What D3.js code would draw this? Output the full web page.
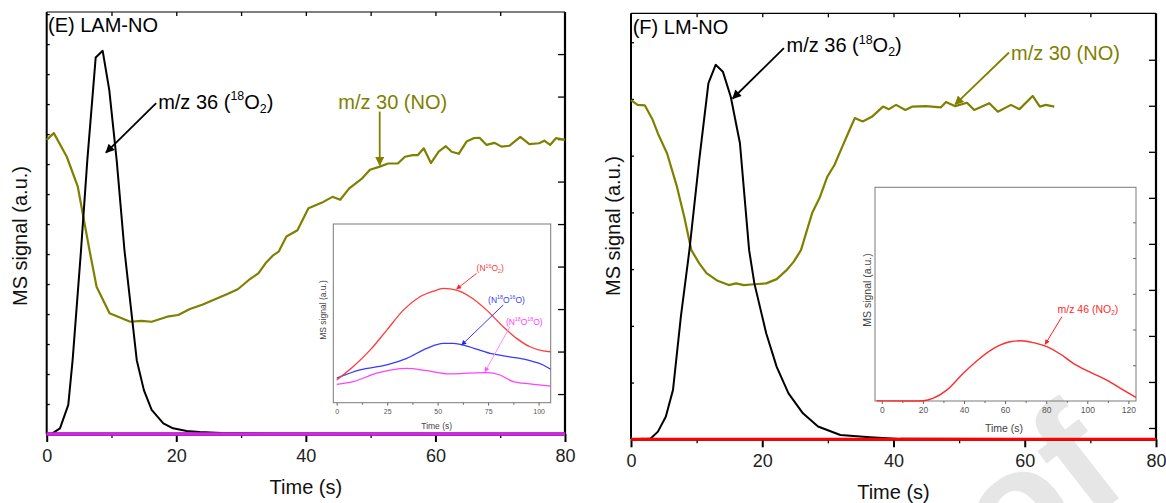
<!DOCTYPE html>
<html>
<head>
<meta charset="utf-8">
<script src="https://cdn.jsdelivr.net/npm/d3@7"></script>
<style>
  body { margin: 0; background: #fff; }
  svg { font-family: "Liberation Sans", Arial, sans-serif; }
</style>
</head>
<body>
<div id="chart"></div>
<script>
// ---------- data ----------
// main panels: time in s, signal in % of the plot height
var mainTicks = [0, 20, 40, 60, 80];
var mainMinor = [10, 30, 50, 70];

// (E) LAM-NO
var eO2Time = [0, 0.8, 2.05, 3.33, 4.0, 5.3, 6.27, 7.56, 8.64, 9.66, 10.8, 12.0, 13.9, 15.0, 16.2, 18.0, 19.5, 21.6, 23.6, 27, 35, 80];
var eO2Signal = [0, 0.1, 1.35, 6.9, 17.5, 43.6, 64.9, 89.2, 90.8, 81.5, 64.9, 43.6, 17.5, 10.4, 5.7, 2.5, 1.35, 0.7, 0.47, 0.24, 0.07, 0];
var eNOTime = [0, 1.1, 3.1, 4.8, 6.6, 7.7, 9.7, 12.9, 14.6, 16.2, 18.6, 20.3, 22.1, 24.1, 25.8, 27.8, 29.5, 31.2, 32.7, 33.8, 35.0, 35.8, 37.0, 38.7, 40.4, 42.7, 44.1, 45.3, 46.7, 48.7, 49.9, 51.3, 52.7, 54.2, 55.3, 56.5, 57.3, 58.2, 59.3, 60.5, 61.6, 62.5, 63.6, 64.8, 65.9, 66.8, 67.9, 69.1, 70.2, 71.4, 73.1, 74.5, 76.0, 76.8, 77.7, 78.6, 80];
var eNOSignal = [69.7, 71.3, 65.7, 58.6, 43.6, 34.9, 28.6, 26.6, 26.8, 26.6, 27.8, 28.2, 29.6, 30.7, 31.8, 33.1, 34.3, 36.5, 38.1, 40.5, 42.4, 43.2, 46.8, 48.3, 53.5, 55.0, 56.2, 55.5, 58.2, 60.6, 62.6, 63.3, 64.1, 64.1, 65.7, 66.1, 66.1, 67.7, 64.2, 66.9, 68.2, 66.9, 66.4, 69.3, 70.1, 70.2, 68.5, 69.0, 68.1, 68.3, 70.4, 68.7, 68.9, 69.5, 68.5, 70.1, 69.7];
var eFlatTime = [0, 80];
var eFlatSignal = [0, 0];

// (E) inset
var eInsetTicks = [0, 25, 50, 75, 100];
var eInsetMinor = [12.5, 37.5, 62.5, 87.5];
var eN16O2Time = [0, 8.2, 16.5, 24.8, 33.0, 41.2, 49.5, 52.8, 59.4, 66.0, 74.3, 82.5, 89.1, 95.7, 102.3, 106];
var eN16O2Signal = [12.7, 20.2, 29.4, 40.6, 51.8, 59.3, 63.0, 64.0, 63.0, 59.3, 51.8, 42.5, 36.0, 31.3, 29.0, 28.5];
var eN18O16OTime = [0, 11.5, 24.8, 34.7, 44.6, 52.8, 57.8, 64.4, 76.0, 85.8, 95.7, 102.3, 106];
var eN18O16OSignal = [13.7, 18.3, 21.1, 24.8, 30.4, 33.2, 33.2, 31.7, 27.6, 25.7, 23.5, 21.1, 18.7];
var eN18O18OTime = [0, 8.2, 19.8, 34.7, 44.6, 56.1, 64.4, 74.3, 80.9, 87.4, 95.7, 106];
var eN18O18OSignal = [10.3, 11.8, 16.5, 19.2, 17.9, 16.1, 16.5, 16.8, 15.5, 11.8, 10.5, 9.3];

// (F) LM-NO
var fO2Time = [0, 2.1, 3.0, 4.1, 5.3, 6.4, 7.6, 8.9, 10.4, 11.8, 12.9, 14.0, 15.2, 16.6, 18.0, 18.8, 20.6, 22.2, 24.0, 26.2, 28.5, 31.9, 36.4, 41, 80];
var fO2Signal = [0, 0.1, 0.2, 1.8, 5.3, 11.6, 28.8, 44.4, 65.6, 83.6, 87.9, 86.3, 80.4, 69.5, 44.4, 36.6, 24.9, 17.0, 10.8, 6.1, 3.0, 1.0, 0.5, 0.1, 0];
var fNOTime = [0, 1.0, 2.1, 3.3, 4.1, 5.5, 7.0, 8.1, 9.2, 10.4, 11.5, 13.2, 14.9, 16.0, 17.2, 18.8, 20.6, 22.2, 23.7, 24.8, 25.9, 27.6, 28.8, 29.9, 31.0, 32.2, 33.3, 34.1, 35.3, 36.7, 38.4, 39.3, 40.4, 41.8, 42.9, 44.9, 47.2, 48.0, 49.4, 51.2, 52.3, 54.6, 55.9, 57.9, 59.2, 61.2, 62.3, 63.2, 64.5];
var fNOSignal = [79.6, 78.5, 78.4, 75.0, 71.8, 67.1, 59.3, 52.3, 44.4, 41.3, 39.0, 37.2, 36.2, 36.6, 36.2, 36.4, 36.6, 37.6, 39.7, 41.7, 44.4, 53.1, 56.9, 61.6, 64.4, 68.7, 72.6, 75.4, 74.6, 75.7, 78.1, 77.5, 78.5, 77.3, 78.1, 78.2, 77.9, 79.2, 78.2, 79.0, 77.3, 78.9, 76.9, 78.5, 77.5, 80.6, 78.1, 78.5, 78.1];
var fFlatTime = [0, 80];
var fFlatSignal = [0, 0];

// (F) inset
var fInsetTicks = [0, 20, 40, 60, 80, 100, 120];
var fInsetMinor = [10, 30, 50, 70, 90, 110];
var fNO2Time = [-2.5, 13.8, 20.2, 25.1, 31.6, 39.7, 47.8, 56.0, 62.4, 68.1, 73.8, 80.3, 86.8, 93.2, 99.8, 109.5, 117.6, 123.7];
var fNO2Signal = [0.1, 0, 0.1, 1.3, 5.1, 13.0, 20.0, 25.4, 27.7, 28.2, 27.3, 25.4, 22.0, 17.6, 14.2, 9.8, 5.1, 1.7];

// ---------- page ----------
var width = 1166;
var height = 503;
var olive = "#808000";
var font = 20;

var svg = d3.select("#chart")
  .append("svg")
  .attr("width", width)
  .attr("height", height);

// arrow heads
var defs = svg.append("defs");
function arrowHead(id, color, w, h) {
  defs.append("marker")
    .attr("id", id)
    .attr("viewBox", "0 0 10 10")
    .attr("refX", 9)
    .attr("refY", 5)
    .attr("markerUnits", "userSpaceOnUse")
    .attr("markerWidth", w)
    .attr("markerHeight", h)
    .attr("orient", "auto")
    .append("path")
    .attr("d", "M0,0 L10,5 L0,10 z")
    .attr("fill", color);
}
arrowHead("headBlack", "#000", 12, 9);
arrowHead("headOlive", olive, 12, 9);
arrowHead("headRed", "#ff2020", 6, 5);
arrowHead("headBlue", "#2020ff", 6, 5);
arrowHead("headPink", "#ff55ff", 6, 5);

// light grey watermark (only its tail shows in the corner)
svg.append("text")
  .attr("transform", "translate(1132,488) rotate(-38)")
  .attr("text-anchor", "end")
  .attr("font-size", 165)
  .attr("font-weight", "bold")
  .attr("fill", "#e6e6e6")
  .text("of");

// label with super / subscripts
function richText(g, x, y, parts, size, color) {
  var t = g.append("text")
    .attr("x", x)
    .attr("y", y)
    .attr("font-size", size)
    .attr("fill", color);
  var shift = 0;
  parts.forEach(function(p) {
    var target = p.sup ? -0.42 * size : (p.sub ? 0.22 * size : 0);
    t.append("tspan")
      .attr("dy", target - shift)
      .attr("font-size", (p.sup || p.sub) ? size * 0.62 : size)
      .text(p.t);
    shift = target;
  });
  return t;
}

function arrow(g, x1, y1, x2, y2, color, w, head) {
  g.append("line")
    .attr("x1", x1).attr("y1", y1)
    .attr("x2", x2).attr("y2", y2)
    .attr("stroke", color)
    .attr("stroke-width", w)
    .attr("marker-end", "url(#" + head + ")");
}

function series(g, x, y, times, values, color, w, curve) {
  g.append("path")
    .datum(d3.zip(times, values))
    .attr("fill", "none")
    .attr("stroke", color)
    .attr("stroke-width", w)
    .attr("stroke-linejoin", "round")
    .attr("d", d3.line()
      .x(function(d) { return x(d[0]); })
      .y(function(d) { return y(d[1]); })
      .curve(curve || d3.curveLinear));
}

// bare tick marks for the sides without labels
function bareTicks(g, axis, tx, ty) {
  var a = g.append("g")
    .attr("transform", "translate(" + tx + "," + ty + ")")
    .call(axis.tickFormat("").tickSizeOuter(0));
  a.select(".domain").remove();
  a.selectAll("line").attr("stroke", "#000").attr("stroke-width", 1.3);
}

// main panel frame, axes, titles
function mainPanel(p) {
  var g = svg.append("g");
  var x = d3.scaleLinear().domain([0, 80]).range([p.left, p.right]);
  var y = d3.scaleLinear().domain([0, 100]).range([p.bottom, p.top]);

  // frame
  g.append("line").attr("x1", p.left).attr("x2", p.right).attr("y1", p.top).attr("y2", p.top)
    .attr("stroke", "#000").attr("stroke-width", 1.2);
  g.append("line").attr("x1", p.left).attr("x2", p.left).attr("y1", p.top).attr("y2", p.bottom)
    .attr("stroke", "#000").attr("stroke-width", 2);
  g.append("line").attr("x1", p.right).attr("x2", p.right).attr("y1", p.top).attr("y2", p.bottom)
    .attr("stroke", "#000").attr("stroke-width", 2.2);

  // bottom axis
  var xAxis = g.append("g")
    .attr("transform", "translate(0," + p.bottom + ")")
    .call(d3.axisBottom(x).tickValues(mainTicks).tickSize(8).tickSizeOuter(0).tickPadding(7));
  xAxis.select(".domain").attr("stroke-width", 2);
  xAxis.selectAll("line").attr("stroke-width", 2);
  xAxis.selectAll("text").attr("font-size", 18).attr("fill", "#222").attr("font-family", null);
  bareTicks(g, d3.axisBottom(x).tickValues(mainMinor).tickSize(4), 0, p.bottom);

  // inward ticks on top, left and right
  bareTicks(g, d3.axisBottom(x).tickValues(mainMinor.concat([20, 40, 60])).tickSize(4), 0, p.top);
  var yLeft = d3.scaleLinear().domain([0, p.leftSteps]).range([p.bottom, p.top]);
  bareTicks(g, d3.axisRight(yLeft).tickValues(d3.range(1, Math.floor(p.leftSteps) + 1)).tickSize(3), p.left, 0);
  var yRight = d3.scaleLinear().domain(p.rightDomain).range([p.bottom, p.top]);
  bareTicks(g, d3.axisLeft(yRight).tickValues(d3.range(0, 9)).tickSize(7), p.right, 0);

  g.append("text")
    .attr("x", (p.left + p.right) / 2)
    .attr("y", p.titleY)
    .attr("text-anchor", "middle")
    .attr("font-size", font)
    .attr("fill", "#111")
    .text("Time (s)");
  g.append("text")
    .attr("transform", "translate(" + p.yTitleX + "," + p.yTitleY + ") rotate(-90)")
    .attr("text-anchor", "middle")
    .attr("font-size", font)
    .attr("fill", "#111")
    .text("MS signal (a.u.)");

  return { g: g, x: x, y: y };
}

// inset frame and axes
function insetPanel(p) {
  var g = svg.append("g");
  var x = d3.scaleLinear().domain(p.xDomain).range([p.left, p.right]);
  var y = d3.scaleLinear().domain([0, 100]).range([p.bottom, p.top]);

  g.append("rect")
    .attr("x", p.left).attr("y", p.top)
    .attr("width", p.right - p.left).attr("height", p.bottom - p.top)
    .attr("fill", "none")
    .attr("stroke", "#7a7a7a")
    .attr("stroke-width", 1);

  var xAxis = g.append("g")
    .attr("transform", "translate(0," + p.bottom + ")")
    .call(d3.axisBottom(x).tickValues(p.ticks).tickSize(3).tickSizeOuter(0).tickPadding(3));
  xAxis.select(".domain").remove();
  xAxis.selectAll("line").attr("stroke", "#666");
  xAxis.selectAll("text").attr("font-size", p.tickFont).attr("fill", "#555").attr("font-family", null);
  var minor = g.append("g")
    .attr("transform", "translate(0," + p.bottom + ")")
    .call(d3.axisBottom(x).tickValues(p.minor).tickSize(2).tickFormat(""));
  minor.select(".domain").remove();
  minor.selectAll("line").attr("stroke", "#666");

  if (p.rightSteps) {
    var yRight = d3.scaleLinear().domain([0, p.rightSteps]).range([p.bottom, p.top]);
    var r = g.append("g")
      .attr("transform", "translate(" + p.right + ",0)")
      .call(d3.axisLeft(yRight).tickValues(d3.range(1, Math.floor(p.rightSteps) + 1)).tickSize(3).tickFormat("").tickSizeOuter(0));
    r.select(".domain").remove();
    r.selectAll("line").attr("stroke", "#666");
  }

  g.append("text")
    .attr("x", p.titleX)
    .attr("y", p.titleY)
    .attr("text-anchor", "middle")
    .attr("font-size", p.labelFont)
    .attr("fill", "#444")
    .text("Time (s)");
  g.append("text")
    .attr("transform", "translate(" + p.yTitleX + "," + p.yTitleY + ") rotate(-90)")
    .attr("text-anchor", "middle")
    .attr("font-size", p.labelFont)
    .attr("fill", "#444")
    .text("MS signal (a.u.)");

  return { g: g, x: x, y: y };
}

// ---------- (E) LAM-NO ----------
var E = mainPanel({
  left: 46.7, right: 565, top: 12, bottom: 434,
  leftSteps: 14.07, rightDomain: [-0.94, 8.99],
  titleY: 494, yTitleX: 27, yTitleY: 236
});
series(E.g, E.x, E.y, eNOTime, eNOSignal, olive, 2.2);
series(E.g, E.x, E.y, eO2Time, eO2Signal, "#000", 2);
series(E.g, E.x, E.y, eFlatTime, eFlatSignal, "#ff2020", 3);
series(E.g, E.x, E.y, eFlatTime, eFlatSignal, "#2020ff", 3);
series(E.g, E.x, E.y, eFlatTime, eFlatSignal, "#e020e0", 3);

E.g.append("text")
  .attr("x", E.x(0.2)).attr("y", E.y(95.3))
  .attr("font-size", font).attr("fill", "#000")
  .text("(E) LAM-NO");
richText(E.g, E.x(17.2), E.y(77.1),
  [{ t: "m/z 36 (" }, { t: "18", sup: true }, { t: "O" }, { t: "2", sub: true }, { t: ")" }], font, "#000");
arrow(E.g, E.x(16.9), E.y(78.4), E.x(9.15), E.y(66.7), "#000", 1.8, "headBlack");
richText(E.g, E.x(45.0), E.y(77.1), [{ t: "m/z 30 (NO)" }], font, olive);
arrow(E.g, E.x(51.4), E.y(76.4), E.x(51.4), E.y(63.7), olive, 1.8, "headOlive");

var Ei = insetPanel({
  left: 333.3, right: 550.7, top: 224, bottom: 402.7,
  xDomain: [-1.7, 106], ticks: eInsetTicks, minor: eInsetMinor,
  tickFont: 7, labelFont: 8.5,
  titleX: 436.7, titleY: 429, yTitleX: 326, yTitleY: 310
});
series(Ei.g, Ei.x, Ei.y, eN18O18OTime, eN18O18OSignal, "#ff40ff", 1.3, d3.curveMonotoneX);
series(Ei.g, Ei.x, Ei.y, eN18O16OTime, eN18O16OSignal, "#3a3aff", 1.3, d3.curveMonotoneX);
series(Ei.g, Ei.x, Ei.y, eN16O2Time, eN16O2Signal, "#ff3a3a", 1.3, d3.curveMonotoneX);

richText(Ei.g, Ei.x(69.3), Ei.y(73.5),
  [{ t: "(N" }, { t: "16", sup: true }, { t: "O" }, { t: "2", sub: true }, { t: ")" }], 8.5, "#ff3a3a");
arrow(Ei.g, Ei.x(69.3), Ei.y(72.4), Ei.x(59.4), Ei.y(63.6), "#ff2020", 0.9, "headRed");
richText(Ei.g, Ei.x(75.0), Ei.y(55.8),
  [{ t: "(N" }, { t: "18", sup: true }, { t: "O" }, { t: "16", sup: true }, { t: "O)" }], 8.5, "#3a3aff");
arrow(Ei.g, Ei.x(82.5), Ei.y(54.7), Ei.x(61.9), Ei.y(32.3), "#2020ff", 0.9, "headBlue");
richText(Ei.g, Ei.x(83.8), Ei.y(43.6),
  [{ t: "(N" }, { t: "18", sup: true }, { t: "O" }, { t: "18", sup: true }, { t: "O)" }], 8.5, "#ff40ff");
arrow(Ei.g, Ei.x(85.8), Ei.y(42.5), Ei.x(73.4), Ei.y(17.3), "#ff80ff", 0.9, "headPink");

// ---------- (F) LM-NO ----------
var F = mainPanel({
  left: 631, right: 1156, top: 13.3, bottom: 439.3,
  leftSteps: 7.51, rightDomain: [-0.246, 9.009],
  titleY: 499, yTitleX: 620, yTitleY: 226
});
series(F.g, F.x, F.y, fNOTime, fNOSignal, olive, 2.2);
series(F.g, F.x, F.y, fO2Time, fO2Signal, "#000", 2);
series(F.g, F.x, F.y, fFlatTime, fFlatSignal, "#ff0000", 3);

F.g.append("text")
  .attr("x", F.x(0.26)).attr("y", F.y(95.2))
  .attr("font-size", font).attr("fill", "#000")
  .text("(F) LM-NO");
richText(F.g, F.x(23.7), F.y(90.9),
  [{ t: "m/z 36 (" }, { t: "18", sup: true }, { t: "O" }, { t: "2", sub: true }, { t: ")" }], font, "#000");
arrow(F.g, F.x(23.3), F.y(91.8), F.x(15.5), F.y(80.0), "#000", 1.8, "headBlack");
richText(F.g, F.x(57.9), F.y(89.0), [{ t: "m/z 30 (NO)" }], font, olive);
arrow(F.g, F.x(57.6), F.y(90.8), F.x(49.4), F.y(78.6), olive, 1.8, "headOlive");

var Fi = insetPanel({
  left: 875, right: 1136, top: 187.3, bottom: 401,
  xDomain: [-3.3, 123.7], ticks: fInsetTicks, minor: fInsetMinor,
  tickFont: 8.5, labelFont: 10.5, rightSteps: 5.98,
  titleX: 1004, titleY: 432, yTitleX: 871, yTitleY: 290
});
series(Fi.g, Fi.x, Fi.y, fNO2Time, fNO2Signal, "#ff2a2a", 1.4, d3.curveMonotoneX);
richText(Fi.g, Fi.x(85.5), Fi.y(41.2),
  [{ t: "m/z 46 (NO" }, { t: "2", sub: true }, { t: ")" }], 10.5, "#ff2a2a");
arrow(Fi.g, Fi.x(87.6), Fi.y(39.4), Fi.x(79.5), Fi.y(26.5), "#ff2020", 1, "headRed");
</script>
</body>
</html>
